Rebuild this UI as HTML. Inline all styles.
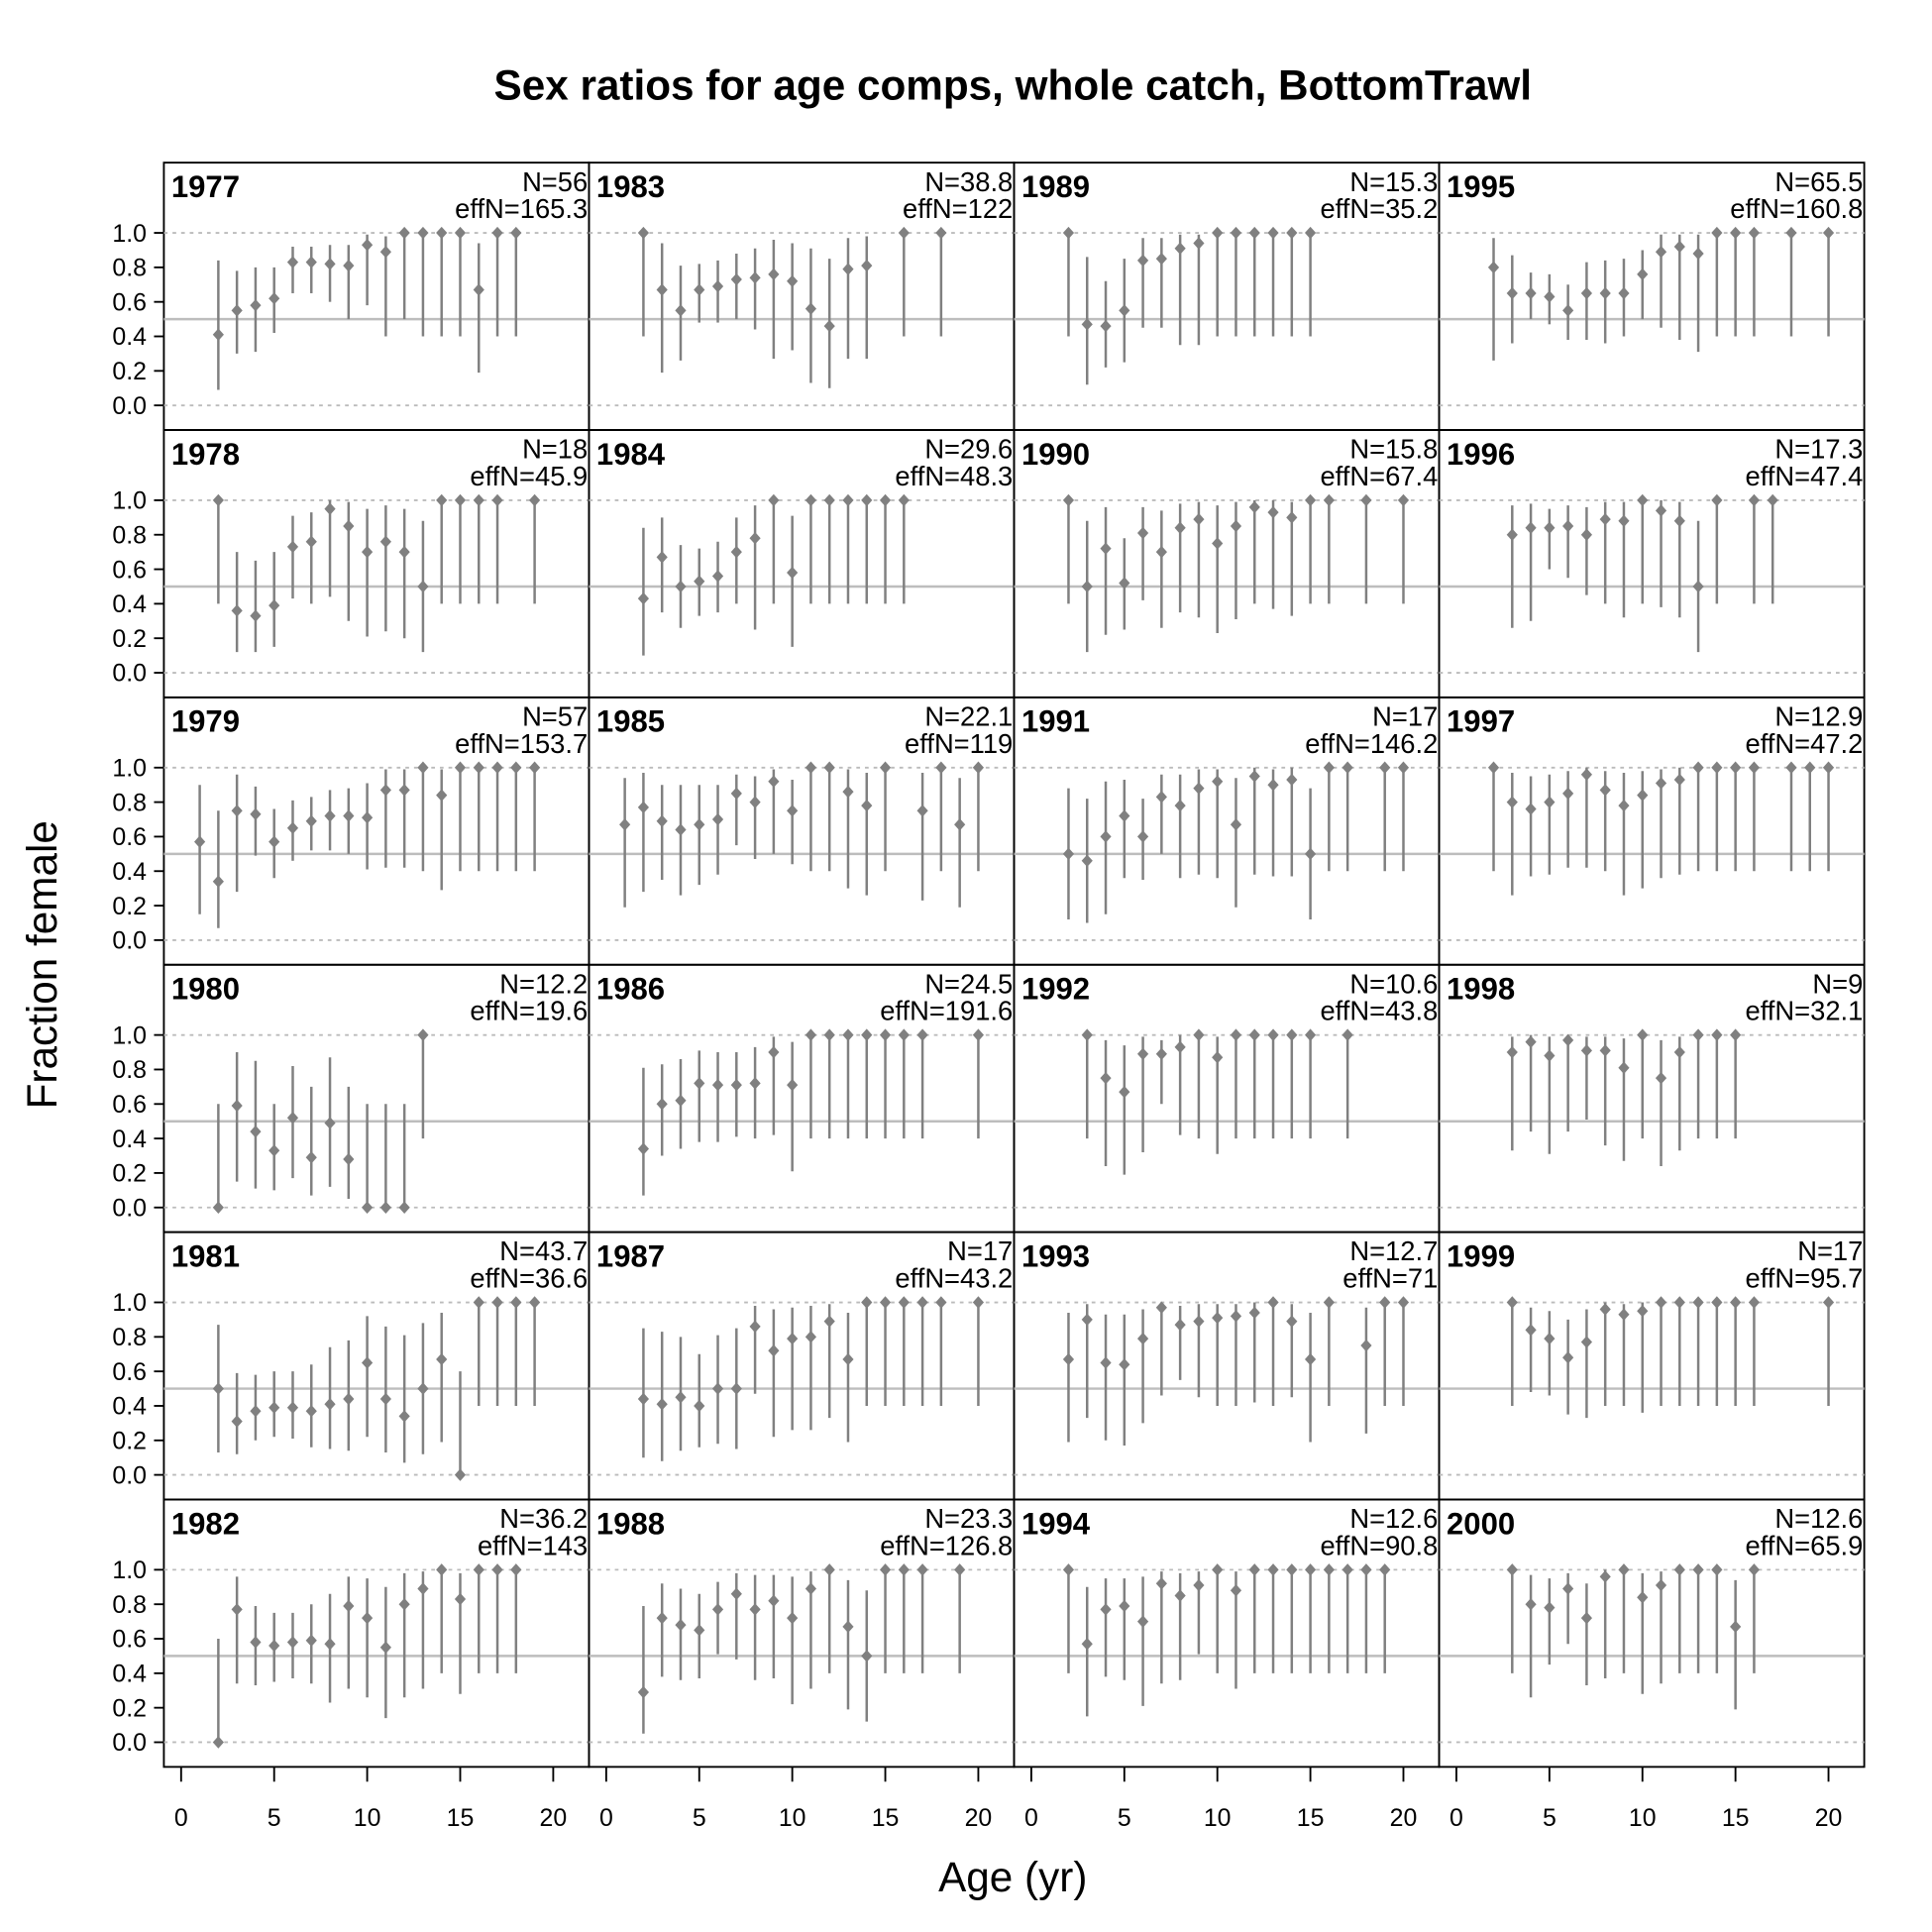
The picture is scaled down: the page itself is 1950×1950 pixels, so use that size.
<!DOCTYPE html>
<html><head><meta charset="utf-8"><style>
html,body{margin:0;padding:0;background:#fff;}
svg{display:block;font-family:"Liberation Sans",Arial,sans-serif;}
</style></head><body>
<svg id="chart" width="1950" height="1950" viewBox="0 0 1568 1568" xmlns="http://www.w3.org/2000/svg">
<rect x="0" y="0" width="1568" height="1568" fill="#fff"/>
<text x="822" y="81" text-anchor="middle" font-size="34" font-weight="bold">Sex ratios for age comps, whole catch, BottomTrawl</text>
<text transform="translate(46,783) rotate(-90)" text-anchor="middle" font-size="34">Fraction female</text>
<text x="822" y="1535" text-anchor="middle" font-size="34">Age (yr)</text>
<g id="panels"></g>
</svg>
<script>
const years = [1977,1978,1979,1980,1981,1982,1983,1984,1985,1986,1987,1988,1989,1990,1991,1992,1993,1994,1995,1996,1997,1998,1999,2000];
const nVals = ["56","18","57","12.2","43.7","36.2","38.8","29.6","22.1","24.5","17","23.3","15.3","15.8","17","10.6","12.7","12.6","65.5","17.3","12.9","9","17","12.6"];
const effNVals = ["165.3","45.9","153.7","19.6","36.6","143","122","48.3","119","191.6","43.2","126.8","35.2","67.4","146.2","43.8","71","90.8","160.8","47.4","47.2","32.1","95.7","65.9"];
const yTicks = [0,0.2,0.4,0.6,0.8,1.0];
const xTicks = [0,5,10,15,20];
const ages = [
 [2,3,4,5,6,7,8,9,10,11,12,13,14,15,16,17,18],
 [2,3,4,5,6,7,8,9,10,11,12,13,14,15,16,17,19],
 [1,2,3,4,5,6,7,8,9,10,11,12,13,14,15,16,17,18,19],
 [2,3,4,5,6,7,8,9,10,11,12,13],
 [2,3,4,5,6,7,8,9,10,11,12,13,14,15,16,17,18,19],
 [2,3,4,5,6,7,8,9,10,11,12,13,14,15,16,17,18],
 [2,3,4,5,6,7,8,9,10,11,12,13,14,16,18],
 [2,3,4,5,6,7,8,9,10,11,12,13,14,15,16],
 [1,2,3,4,5,6,7,8,9,10,11,12,13,14,15,17,18,19,20],
 [2,3,4,5,6,7,8,9,10,11,12,13,14,15,16,17,20],
 [2,3,4,5,6,7,8,9,10,11,12,13,14,15,16,17,18,20],
 [2,3,4,5,6,7,8,9,10,11,12,13,14,15,16,17,19],
 [2,3,4,5,6,7,8,9,10,11,12,13,14,15],
 [2,3,4,5,6,7,8,9,10,11,12,13,14,15,16,18,20],
 [2,3,4,5,6,7,8,9,10,11,12,13,14,15,16,17,19,20],
 [3,4,5,6,7,8,9,10,11,12,13,14,15,17],
 [2,3,4,5,6,7,8,9,10,11,12,13,14,15,16,18,19,20],
 [2,3,4,5,6,7,8,9,10,11,12,13,14,15,16,17,18,19],
 [2,3,4,5,6,7,8,9,10,11,12,13,14,15,16,18,20],
 [3,4,5,6,7,8,9,10,11,12,13,14,16,17],
 [2,3,4,5,6,7,8,9,10,11,12,13,14,15,16,18,19,20],
 [3,4,5,6,7,8,9,10,11,12,13,14,15],
 [3,4,5,6,7,8,9,10,11,12,13,14,15,16,20],
 [3,4,5,6,7,8,9,10,11,12,13,14,15,16]
];
const vals = [
 [0.41,0.55,0.58,0.62,0.83,0.83,0.82,0.81,0.93,0.89,1,1,1,1,0.67,1,1],
 [1,0.36,0.33,0.39,0.73,0.76,0.95,0.85,0.7,0.76,0.7,0.5,1,1,1,1,1],
 [0.57,0.34,0.75,0.73,0.57,0.65,0.69,0.72,0.72,0.71,0.87,0.87,1,0.84,1,1,1,1,1],
 [0,0.59,0.44,0.33,0.52,0.29,0.49,0.28,0,0,0,1],
 [0.5,0.31,0.37,0.39,0.39,0.37,0.41,0.44,0.65,0.44,0.34,0.5,0.67,0,1,1,1,1],
 [0,0.77,0.58,0.56,0.58,0.59,0.57,0.79,0.72,0.55,0.8,0.89,1,0.83,1,1,1],
 [1,0.67,0.55,0.67,0.69,0.73,0.74,0.76,0.72,0.56,0.46,0.79,0.81,1,1],
 [0.43,0.67,0.5,0.53,0.56,0.7,0.78,1,0.58,1,1,1,1,1,1],
 [0.67,0.77,0.69,0.64,0.67,0.7,0.85,0.8,0.92,0.75,1,1,0.86,0.78,1,0.75,1,0.67,1],
 [0.34,0.6,0.62,0.72,0.71,0.71,0.72,0.9,0.71,1,1,1,1,1,1,1,1],
 [0.44,0.41,0.45,0.4,0.5,0.5,0.86,0.72,0.79,0.8,0.89,0.67,1,1,1,1,1,1],
 [0.29,0.72,0.68,0.65,0.77,0.86,0.77,0.82,0.72,0.89,1,0.67,0.5,1,1,1,1],
 [1,0.47,0.46,0.55,0.84,0.85,0.91,0.94,1,1,1,1,1,1],
 [1,0.5,0.72,0.52,0.81,0.7,0.84,0.89,0.75,0.85,0.96,0.93,0.9,1,1,1,1],
 [0.5,0.46,0.6,0.72,0.6,0.83,0.78,0.88,0.92,0.67,0.95,0.9,0.93,0.5,1,1,1,1],
 [1,0.75,0.67,0.89,0.89,0.93,1,0.87,1,1,1,1,1,1],
 [0.67,0.9,0.65,0.64,0.79,0.97,0.87,0.89,0.91,0.92,0.94,1,0.89,0.67,1,0.75,1,1],
 [1,0.57,0.77,0.79,0.7,0.92,0.85,0.91,1,0.88,1,1,1,1,1,1,1,1],
 [0.8,0.65,0.65,0.63,0.55,0.65,0.65,0.65,0.76,0.89,0.92,0.88,1,1,1,1,1],
 [0.8,0.84,0.84,0.85,0.8,0.89,0.88,1,0.94,0.88,0.5,1,1,1],
 [1,0.8,0.76,0.8,0.85,0.96,0.87,0.78,0.84,0.91,0.93,1,1,1,1,1,1,1],
 [0.9,0.96,0.88,0.97,0.91,0.91,0.81,1,0.75,0.9,1,1,1],
 [1,0.84,0.79,0.68,0.77,0.96,0.93,0.95,1,1,1,1,1,1,1],
 [1,0.8,0.78,0.89,0.72,0.96,1,0.84,0.91,1,1,1,0.67,1]
];
const los = [
 [0.09,0.3,0.31,0.42,0.65,0.65,0.6,0.5,0.58,0.4,0.5,0.4,0.4,0.4,0.19,0.4,0.4],
 [0.4,0.12,0.12,0.15,0.43,0.4,0.44,0.3,0.21,0.24,0.2,0.12,0.4,0.4,0.4,0.4,0.4],
 [0.15,0.07,0.28,0.49,0.36,0.46,0.52,0.52,0.5,0.41,0.42,0.42,0.4,0.29,0.4,0.4,0.4,0.4,0.4],
 [0,0.15,0.11,0.1,0.17,0.07,0.12,0.05,0,0,0,0.4],
 [0.13,0.12,0.2,0.22,0.21,0.16,0.15,0.14,0.22,0.13,0.07,0.12,0.19,0,0.4,0.4,0.4,0.4],
 [0,0.34,0.33,0.35,0.37,0.34,0.23,0.31,0.26,0.14,0.26,0.31,0.4,0.28,0.4,0.4,0.4],
 [0.4,0.19,0.26,0.48,0.48,0.5,0.44,0.27,0.32,0.13,0.1,0.27,0.27,0.4,0.4],
 [0.1,0.35,0.26,0.33,0.35,0.4,0.25,0.4,0.15,0.4,0.4,0.4,0.4,0.4,0.4],
 [0.19,0.28,0.35,0.26,0.32,0.38,0.55,0.47,0.5,0.44,0.4,0.4,0.3,0.26,0.4,0.23,0.4,0.19,0.4],
 [0.07,0.3,0.34,0.38,0.38,0.41,0.4,0.42,0.21,0.4,0.4,0.4,0.4,0.4,0.4,0.4,0.4],
 [0.1,0.08,0.14,0.16,0.18,0.15,0.47,0.22,0.26,0.26,0.33,0.19,0.4,0.4,0.4,0.4,0.4,0.4],
 [0.05,0.38,0.36,0.37,0.51,0.48,0.36,0.37,0.22,0.31,0.4,0.19,0.12,0.4,0.4,0.4,0.4],
 [0.4,0.12,0.22,0.25,0.45,0.45,0.35,0.35,0.4,0.4,0.4,0.4,0.4,0.4],
 [0.4,0.12,0.22,0.25,0.42,0.26,0.35,0.32,0.23,0.31,0.4,0.37,0.33,0.4,0.4,0.4,0.4],
 [0.12,0.1,0.15,0.36,0.35,0.5,0.36,0.38,0.36,0.19,0.38,0.37,0.37,0.12,0.4,0.4,0.4,0.4],
 [0.4,0.24,0.19,0.32,0.6,0.42,0.4,0.31,0.4,0.4,0.4,0.4,0.4,0.4],
 [0.19,0.33,0.2,0.17,0.3,0.46,0.55,0.45,0.4,0.4,0.42,0.4,0.45,0.19,0.4,0.24,0.4,0.4],
 [0.4,0.15,0.38,0.36,0.21,0.34,0.36,0.51,0.4,0.31,0.4,0.4,0.4,0.4,0.4,0.4,0.4,0.4],
 [0.26,0.36,0.5,0.47,0.38,0.38,0.36,0.4,0.5,0.45,0.38,0.31,0.4,0.4,0.4,0.4,0.4],
 [0.26,0.3,0.6,0.55,0.45,0.4,0.32,0.4,0.38,0.32,0.12,0.4,0.4,0.4],
 [0.4,0.26,0.37,0.38,0.42,0.42,0.4,0.26,0.3,0.36,0.38,0.4,0.4,0.4,0.4,0.4,0.4,0.4],
 [0.33,0.44,0.31,0.44,0.51,0.36,0.27,0.4,0.24,0.33,0.4,0.4,0.4],
 [0.4,0.48,0.46,0.35,0.33,0.4,0.4,0.36,0.4,0.4,0.4,0.4,0.4,0.4,0.4],
 [0.4,0.26,0.45,0.57,0.33,0.37,0.4,0.28,0.34,0.4,0.4,0.4,0.19,0.4]
];
const his = [
 [0.84,0.78,0.8,0.8,0.92,0.92,0.93,0.93,0.99,0.98,1,1,1,1,0.94,1,1],
 [1,0.7,0.65,0.7,0.91,0.93,1,0.99,0.95,0.97,0.95,0.88,1,1,1,1,1],
 [0.9,0.75,0.96,0.89,0.76,0.81,0.83,0.87,0.88,0.91,0.99,0.99,1,0.99,1,1,1,1,1],
 [0.6,0.9,0.85,0.6,0.82,0.7,0.87,0.7,0.6,0.6,0.6,1],
 [0.87,0.59,0.58,0.6,0.6,0.64,0.74,0.78,0.92,0.86,0.81,0.88,0.94,0.6,1,1,1,1],
 [0.6,0.96,0.79,0.75,0.75,0.8,0.86,0.96,0.95,0.9,0.98,0.99,1,0.98,1,1,1],
 [1,0.94,0.81,0.82,0.84,0.88,0.91,0.96,0.94,0.91,0.85,0.97,0.98,1,1],
 [0.84,0.9,0.74,0.72,0.76,0.9,0.97,1,0.91,1,1,1,1,1,1],
 [0.94,0.97,0.9,0.9,0.9,0.9,0.96,0.95,0.99,0.93,1,1,0.99,0.97,1,0.97,1,0.94,1],
 [0.81,0.83,0.86,0.91,0.9,0.9,0.93,0.99,0.96,1,1,1,1,1,1,1,1],
 [0.85,0.83,0.8,0.7,0.81,0.85,0.98,0.96,0.97,0.98,0.99,0.94,1,1,1,1,1,1],
 [0.79,0.92,0.89,0.86,0.93,0.98,0.97,0.97,0.96,0.99,1,0.94,0.88,1,1,1,1],
 [1,0.86,0.72,0.85,0.97,0.97,0.99,0.99,1,1,1,1,1,1],
 [1,0.88,0.96,0.78,0.96,0.94,0.98,0.99,0.97,0.99,1,1,0.99,1,1,1,1],
 [0.88,0.82,0.92,0.93,0.82,0.96,0.96,0.99,0.99,0.94,1,0.99,1,0.88,1,1,1,1],
 [1,0.97,0.94,0.99,0.97,1,1,0.99,1,1,1,1,1,1],
 [0.94,0.99,0.93,0.93,0.96,1,0.98,0.99,0.99,0.99,1,1,0.99,0.94,1,0.97,1,1],
 [1,0.9,0.95,0.95,0.96,0.99,0.98,0.99,1,0.99,1,1,1,1,1,1,1,1],
 [0.97,0.87,0.77,0.76,0.7,0.83,0.84,0.85,0.9,0.99,0.99,0.99,1,1,1,1,1],
 [0.97,0.98,0.95,0.97,0.96,0.99,0.99,1,1,0.99,0.88,1,1,1],
 [1,0.97,0.95,0.96,0.98,1,0.98,0.97,0.98,0.99,1,1,1,1,1,1,1,1],
 [0.99,1,0.99,1,0.99,0.99,0.98,1,0.97,0.99,1,1,1],
 [1,0.97,0.95,0.9,0.96,1,0.99,1,1,1,1,1,1,1,1],
 [1,0.97,0.95,0.98,0.92,1,1,0.98,0.99,1,1,1,0.94,1]
];

const NS = "http://www.w3.org/2000/svg";
const root = document.getElementById('panels');
const PX0 = 133, PW = 345, PY0 = 132, PH = 217;
function mk(tag, attrs, parent){ const e = document.createElementNS(NS, tag); for (const k in attrs) e.setAttribute(k, attrs[k]); parent.appendChild(e); return e; }
function xScale(col, a){ return PX0 + col*PW + 14 + a*15.1; }
function yScale(row, v){ return PY0 + row*PH + 197 - v*140; }

years.forEach((yr, p) => {
  const col = Math.floor(p/6), row = p%6;
  const x0 = PX0 + col*PW, y0 = PY0 + row*PH;
  const g = mk('g', {}, root);
  
  
  const rc = mk('rect', {x:x0, y:y0, width:PW, height:PH, fill:'none', stroke:'#000', 'stroke-width':1.5}, g);
  
  
  [0,1].forEach(v => {
    const l = mk('line', {x1:x0, x2:x0+PW, y1:yScale(row,v), y2:yScale(row,v), stroke:'#bbb', 'stroke-width':1.5, 'stroke-dasharray':'3,4'}, g);
    
    
  });
  const mid = mk('line', {x1:x0, x2:x0+PW, y1:yScale(row,0.5), y2:yScale(row,0.5), stroke:'#bdbdbd', 'stroke-width':2}, g);
  
  
  ages[p].forEach((a, i) => {
    const x = xScale(col, a);
    const ln = mk('line', {x1:x, x2:x, y1:yScale(row, los[p][i]), y2:yScale(row, his[p][i]), stroke:'#808080', 'stroke-width':2}, g);
    
    
    const y = yScale(row, vals[p][i]);
    const pt = mk('polygon', {points:(x-4.5)+','+y+' '+x+','+(y-5)+' '+(x+4.5)+','+y+' '+x+','+(y+5), fill:'#808080'}, g);
    
    
  });
  const t1 = mk('text', {x:x0+6, y:y0+28, 'font-size':25, 'font-weight':'bold'}, g); t1.textContent = yr;
  
  
  const t2 = mk('text', {x:x0+PW-1, y:y0+23, 'font-size':22, 'text-anchor':'end'}, g); t2.textContent = 'N=' + nVals[p];
  
  
  const t3 = mk('text', {x:x0+PW-1, y:y0+45, 'font-size':22, 'text-anchor':'end'}, g); t3.textContent = 'effN=' + effNVals[p];
  
  
  if (col === 0) {
    yTicks.forEach(v => {
      const y = yScale(row, v);
      const tk = mk('line', {x1:x0-8, x2:x0, y1:y, y2:y, stroke:'#000', 'stroke-width':1.5}, g);
      
      
      const tl = mk('text', {x:x0-14, y:y+7, 'font-size':20, 'text-anchor':'end'}, g); tl.textContent = v.toFixed(1);
      
      
    });
  }
  if (row === 5) {
    xTicks.forEach(v => {
      const x = xScale(col, v);
      const tk = mk('line', {x1:x, x2:x, y1:y0+PH, y2:y0+PH+12, stroke:'#000', 'stroke-width':1.5}, g);
      
      
      const tl = mk('text', {x:x, y:y0+PH+48, 'font-size':20, 'text-anchor':'middle'}, g); tl.textContent = v;
      
      
    });
  }
});
</script>
</body></html>
